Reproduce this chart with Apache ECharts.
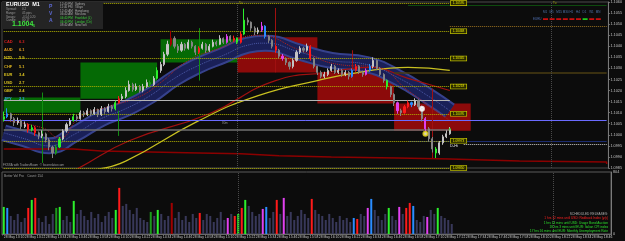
<!DOCTYPE html>
<html>
<head>
<meta charset="utf-8">
<script src="https://cdn.jsdelivr.net/npm/echarts@6/dist/echarts.min.js"></script>
<style>
html, body { margin: 0; padding: 0; background: #0c0c0c; }
#chart { width: 625px; height: 241px; }
</style>
</head>
<body>
<div id="chart"></div>
<script>
// time axis: one slot per 2 minutes, starting 28 May 13:10
const startMinute = 13 * 60 + 10;
const slotMinutes = 2;
const slotCount = 174;

const firstOpen = 1.10070;
const closes = [
    1.10082, 1.10095, 1.10073, 1.10055, 1.10064, 1.10037, 1.10046, 1.10023, 1.10032, 1.10009,
    1.09995, 1.10004, 1.09977, 1.09945, 1.09918, 1.09945, 1.09981, 1.10018, 1.10046, 1.10064,
    1.10082, 1.10073, 1.10100, 1.10091, 1.10109, 1.10095, 1.10114, 1.10091, 1.10118, 1.10105,
    1.10127, 1.10118, 1.10145, 1.10163, 1.10173, 1.10200, 1.10227, 1.10205, 1.10218, 1.10200,
    1.10218, 1.10236, 1.10227, 1.10255, 1.10291, 1.10318, 1.10364, 1.10409, 1.10436, 1.10400,
    1.10382, 1.10409, 1.10391, 1.10418, 1.10400, 1.10373, 1.10391, 1.10409, 1.10382, 1.10400,
    1.10418, 1.10409, 1.10436, 1.10418, 1.10445, 1.10427, 1.10436, 1.10418, 1.10455, 1.10518,
    1.10509, 1.10482, 1.10464, 1.10473, 1.10491, 1.10445, 1.10427, 1.10400, 1.10382, 1.10355,
    1.10345, 1.10327, 1.10309, 1.10336, 1.10373, 1.10391, 1.10382, 1.10400, 1.10345, 1.10309,
    1.10282, 1.10264, 1.10273, 1.10291, 1.10309, 1.10282, 1.10291, 1.10273, 1.10282, 1.10264,
    1.10291, 1.10309, 1.10282, 1.10273, 1.10291, 1.10309, 1.10336, 1.10300, 1.10273, 1.10245,
    1.10218, 1.10182, 1.10145, 1.10109, 1.10100, 1.10127, 1.10145, 1.10136, 1.10155, 1.10127,
    1.10073, 1.10027, 1.09982, 1.09936, 1.09918, 1.09964, 1.09991, 1.10005, 1.10025
];
const highs = [
    1.10105, 1.10120, 1.10100, 1.10080, 1.10078, 1.10070, 1.10060, 1.10052, 1.10045, 1.10040,
    1.10015, 1.10020, 1.10010, 1.09985, 1.09950, 1.09955, 1.09990, 1.10025, 1.10055, 1.10075,
    1.10095, 1.10090, 1.10110, 1.10108, 1.10120, 1.10115, 1.10125, 1.10118, 1.10130, 1.10125,
    1.10140, 1.10135, 1.10155, 1.10175, 1.10185, 1.10215, 1.10245, 1.10235, 1.10232, 1.10225,
    1.10230, 1.10250, 1.10245, 1.10265, 1.10305, 1.10330, 1.10375, 1.10425, 1.10470, 1.10445,
    1.10410, 1.10420, 1.10415, 1.10430, 1.10425, 1.10405, 1.10400, 1.10420, 1.10415, 1.10410,
    1.10430, 1.10425, 1.10450, 1.10440, 1.10455, 1.10450, 1.10448, 1.10440, 1.10465, 1.10570,
    1.10530, 1.10512, 1.10490, 1.10485, 1.10510, 1.10495, 1.10450, 1.10432, 1.10405, 1.10388,
    1.10365, 1.10350, 1.10332, 1.10345, 1.10382, 1.10400, 1.10398, 1.10412, 1.10405, 1.10350,
    1.10312, 1.10290, 1.10285, 1.10300, 1.10320, 1.10315, 1.10300, 1.10298, 1.10292, 1.10288,
    1.10300, 1.10320, 1.10315, 1.10290, 1.10300, 1.10320, 1.10350, 1.10340, 1.10305, 1.10278,
    1.10250, 1.10222, 1.10188, 1.10150, 1.10118, 1.10135, 1.10155, 1.10150, 1.10165, 1.10160,
    1.10132, 1.10080, 1.10035, 1.09990, 1.09945, 1.09972, 1.10000, 1.10020, 1.10035
];
const lows = [
    1.10060, 1.10075, 1.10060, 1.10040, 1.10045, 1.10025, 1.10030, 1.10010, 1.10015, 1.09995,
    1.09980, 1.09985, 1.09965, 1.09930, 1.09895, 1.09910, 1.09940, 1.09975, 1.10010, 1.10040,
    1.10060, 1.10060, 1.10068, 1.10080, 1.10085, 1.10085, 1.10090, 1.10080, 1.10085, 1.10095,
    1.10100, 1.10105, 1.10110, 1.10140, 1.10155, 1.10165, 1.10195, 1.10195, 1.10198, 1.10190,
    1.10192, 1.10212, 1.10215, 1.10220, 1.10250, 1.10280, 1.10310, 1.10355, 1.10400, 1.10390,
    1.10370, 1.10375, 1.10380, 1.10385, 1.10390, 1.10360, 1.10365, 1.10385, 1.10370, 1.10375,
    1.10395, 1.10400, 1.10405, 1.10410, 1.10412, 1.10420, 1.10420, 1.10410, 1.10412, 1.10450,
    1.10495, 1.10470, 1.10450, 1.10455, 1.10465, 1.10435, 1.10415, 1.10390, 1.10370, 1.10345,
    1.10335, 1.10315, 1.10295, 1.10300, 1.10330, 1.10365, 1.10372, 1.10375, 1.10335, 1.10300,
    1.10270, 1.10255, 1.10255, 1.10265, 1.10285, 1.10275, 1.10275, 1.10262, 1.10265, 1.10250,
    1.10258, 1.10285, 1.10275, 1.10262, 1.10268, 1.10285, 1.10300, 1.10292, 1.10265, 1.10235,
    1.10205, 1.10170, 1.10130, 1.10095, 1.10085, 1.10095, 1.10120, 1.10125, 1.10130, 1.10115,
    1.10060, 1.10015, 1.09970, 1.09920, 1.09895, 1.09910, 1.09955, 1.09985, 1.10000
];
// tick volume per bar
const volumes = [
    351, 338, 234, 182, 260, 156, 208, 338, 442, 468,
    208, 156, 234, 130, 260, 338, 351, 182, 234, 156,
    429, 260, 312, 234, 182, 286, 208, 260, 156, 234,
    286, 208, 312, 598, 364, 390, 312, 260, 338, 208,
    182, 156, 286, 234, 312, 260, 182, 234, 403, 208,
    286, 182, 234, 156, 260, 208, 273, 182, 260, 234,
    156, 208, 286, 182, 208, 260, 234, 260, 338, 442,
    364, 286, 234, 260, 325, 351, 208, 286, 442, 260,
    468, 234, 286, 182, 234, 312, 260, 208, 455, 312,
    260, 234, 182, 260, 208, 156, 234, 182, 208, 156,
    208, 195, 260, 234, 338, 455, 312, 234, 182, 260,
    338, 234, 182, 351, 260, 338, 403, 364, 182, 156,
    234, 221, 312, 260, 338, 234, 208, 182, 130
];
const volumeMax = 804;

// bars flagged by the volume indicator
const flagged = {
    0: "g", 1: "b", 7: "r", 8: "g", 9: "r", 15: "dg", 16: "g", 20: "g", 32: "g", 33: "r",
    42: "dg", 44: "g", 48: "dr", 56: "r", 64: "m", 66: "r", 67: "g", 68: "r", 69: "g",
    74: "m", 75: "b", 78: "r", 80: "m", 88: "r", 100: "b", 101: "r", 104: "m", 105: "b",
    110: "g", 113: "m", 115: "r", 116: "r", 117: "b", 121: "m", 124: "g"
};
const palette = { g: "#2cf02c", dg: "#1c9a1c", r: "#ff1a1a", dr: "#a00000", b: "#2a8cff", m: "#e040f0" };

// supply / demand zones: [fromSlot, toSlot, low, high, side]
const zones = [
    [0, 22, 1.10100, 1.10168, "buy"],
    [22, 44, 1.10163, 1.10327, "buy"],
    [45, 67, 1.10327, 1.10432, "buy"],
    [67, 90, 1.10282, 1.10441, "sell"],
    [90, 112, 1.10141, 1.10282, "sell"],
    [112, 134, 1.10018, 1.10141, "sell"]
];

const pivots = [1.10595, 1.10468, 1.10345, 1.10218, 1.10095, 1.09973, 1.09850];

// [price, fromSlot, toSlot, colour, width, type]
const levels = [
    [1.10064, 0, 173, "#6b6bff", 1, "solid"],
    [1.10155, 0, 128, "#b4b4b4", 1, "solid"],
    [1.10282, 112, 173, "#4a3c12", 1.5, "solid"],
    [1.10491, 128, 173, "#9a7020", 1, "dotted"],
    [1.10586, 116, 173, "#0e4a0e", 1, "solid"],
    [1.09973, 116, 173, "#1c2c70", 1, "solid"],
    [1.09959, 132, 173, "#d0d0d0", 1, "dotted"]
];
const separators = [67, 157];

// vertical signal lines: [slot, high, low, colour]
const spikes = [
    [11, 1.10191, 1.09873, "#118f11"],
    [33, 1.10109, 1.09995, "#118f11"],
    [56, 1.10482, 1.10245, "#118f11"],
    [78, 1.10573, 1.10282, "#a01010"],
    [100, 1.10382, 1.10245, "#a01010"],
    [123, 1.10209, 1.09895, "#a01010"]
];

// channel middle and moving averages, [slot, price]
const channel = [
    [0, 1.10009], [6, 1.09982], [13, 1.09950], [20, 1.10000], [28, 1.10073], [35, 1.10118],
    [42, 1.10177], [49, 1.10255], [56, 1.10314], [63, 1.10359], [70, 1.10405], [75, 1.10414],
    [85, 1.10373], [94, 1.10336], [104, 1.10318], [113, 1.10259], [122, 1.10173], [128, 1.10109]
];
const maRed = [[16, 1.0981], [21, 1.09845], [36, 1.09973], [59, 1.10095], [78, 1.10245], [93, 1.10282], [105, 1.10305], [116, 1.10255], [128, 1.10200]];
const maYellow = [[27, 1.09845], [35, 1.09881], [56, 1.10064], [73, 1.10177], [90, 1.10245], [102, 1.10282], [116, 1.10305], [128, 1.10291]];
const maDotted = [[0, 1.10064], [11, 1.10032], [16, 1.09986], [22, 1.10082], [30, 1.10127], [39, 1.10173], [45, 1.10236], [53, 1.10336], [62, 1.10391], [73, 1.10450], [85, 1.10382], [96, 1.10318], [107, 1.10305], [116, 1.10200], [128, 1.10064]];
const dailyLine = [[0, 1.09936], [20, 1.09927], [28, 1.09918], [56, 1.09914], [68, 1.09905], [79, 1.09900], [94, 1.09895], [113, 1.09891], [128, 1.09882], [148, 1.09877], [173, 1.09868]];

const whiteRing = [120, 1.10118];
const yellowRing = [121, 1.10005];

const currencies = ["CAD", "AUD", "NZD", "CHF", "EUR", "USD", "GBP", "JPY"];
const strengths = [6.3, 6.1, 5.9, 5.1, 3.4, 2.7, 2.4, 2.3];
const strengthColors = ["#d42020", "#e09a20", "#d8c020", "#d8b020", "#d8c020", "#d8c020", "#d8c020", "#3aa0e0"];

const sessions = [
    ["12:40 PM", "Sydney"], ["11:40 PM", "Tokyo"], ["12:40 AM", "Hongkong"], ["06:40 AM", "Moscow"],
    ["04:40 PM", "Frankfurt (L)"], ["04:40 PM", "London (Ctr)"], ["08:40 AM", "NewYork"]
];
const openSessions = [4, 5];
const infoRows = [["Spread:", "0.2"], ["Range:", "45 pips"], ["Swaps:", "-0.54 0.20"], ["Candle:", "00:17"]];

const timeframes = ["M1", "M5", "M15", "M30", "H1", "H4", "D1", "W1", "MN"];
const trendRow = ["r", "r", "r", "r", "r", "r", "g", "r", "r"];

const releases = [
    ["SCHEDULED RELEASES:", "#b0b0b0"],
    ["1 hrs 12 mins until USD: Redbook Index (y/y)", "#ff2020"],
    ["1 hrs 14 mins until USD: Usage Bond Auction", "#2ce02c"],
    ["18 hrs 3 mins until EUR: Italian CPI index", "#2ce02c"],
    ["17 hrs 16 mins until EUR: Monthly Unemployment Rate", "#2ce02c"]
];

const FONT = '"Liberation Sans", Arial, sans-serif';

const categories = [];
for (let i = 0; i < slotCount; i++) {
    const m = startMinute + i * slotMinutes;
    const hh = String(Math.floor(m / 60)).padStart(2, "0");
    const mm = String(m % 60).padStart(2, "0");
    categories.push("28 May " + hh + ":" + mm);
}

function flagStyle (i) {
    const c = palette[flagged[i]];
    return c ? { color: c, color0: c, borderColor: c, borderColor0: c } : null;
}

const candleData = closes.map((c, i) => {
    const o = i ? closes[i - 1] : firstOpen;
    const item = { value: [o, c, lows[i], highs[i]] };
    const st = flagStyle(i);
    if (st) item.itemStyle = st;
    return item;
});

const volumeData = volumes.map((v, i) => {
    const c = palette[flagged[i]];
    return c ? { value: v, itemStyle: { color: c } } : v;
});

const lastClose = closes[closes.length - 1];
const lastSlot = closes.length - 1;

function text (x, y, str, fill, size, extra) {
    return {
        type: "text", x: x, y: y, silent: true, z: 100,
        style: Object.assign({ text: str, fill: fill, font: size + "px " + FONT, textVerticalAlign: "middle" }, extra || {})
    };
}

function buildGraphics () {
    const g = [];
    g.push({ type: "rect", shape: { x: 2, y: 2, width: 101, height: 27 }, style: { fill: "#242424" }, silent: true, z: 99 });
    g.push(text(6, 4.5, "EURUSD  M1", "#ffffff", 5.5, { font: "bold 5.5px " + FONT }));
    infoRows.forEach((r, k) => {
        g.push(text(6, 9.5 + k * 3.6, r[0], "#9a9a9a", 3));
        g.push(text(22, 9.5 + k * 3.6, r[1], "#9a9a9a", 3));
    });
    g.push(text(12, 24.5, "1.1004", "#3ee83e", 7, { font: "bold 7px " + FONT }));
    g.push(text(33, 25.5, "6", "#3ee83e", 4));
    ["P", "V", "A"].forEach((ch, k) => g.push(text(49, 7 + k * 7, ch, "#5d6ad6", 5, { font: "bold 5px " + FONT })));
    sessions.forEach((s, k) => {
        const col = openSessions.includes(k) ? "#3ad03a" : "#a8a8a8";
        g.push(text(60, 3.8 + k * 3.6, s[0], col, 3));
        g.push(text(75, 3.8 + k * 3.6, s[1], col, 3));
    });
    currencies.forEach((c, k) => {
        const y = 42 + k * 8.15;
        g.push(text(4, y, c, strengthColors[k], 4, { font: "bold 4px " + FONT }));
        g.push(text(19, y, strengths[k].toFixed(1), strengthColors[k], 4, { font: "bold 4px " + FONT }));
    });
    timeframes.forEach((t, k) => g.push(text(543 + k * 6.6, 12, t, "#4f73a8", 3)));
    g.push(text(533, 19, "EURU", "#4f6fb0", 3));
    trendRow.forEach((s, k) => g.push({
        type: "rect", silent: true, z: 100,
        shape: { x: 543 + k * 6.6, y: 18.3, width: 5, height: 1.6 },
        style: { fill: s === "g" ? "#20e020" : "#e01010" }
    }));
    releases.forEach((r, k) => g.push(text(608, 214.5 + k * 4.1, r[0], r[1], 3.2, { textAlign: "right" })));
    g.push(text(4, 176, "Better Vol Pro    Count: 154", "#a0a0a0", 3.2));
    g.push(text(3, 165, "FXSSA with TradersRoom  \u00a9 fxcorrelator.com", "#a0a0a0", 3));
    g.push(text(450, 145.5, "D-Hi", "#e0e0e0", 4));
    g.push(text(222, 123, "80m", "#909090", 3));
    g.push(text(239, 3.5, "Tu", "#b0b000", 3));
    g.push(text(553, 3.5, "Tu", "#b0b000", 3));
    return g;
}

function pivotLabel (p) {
    return {
        show: true, position: "end", distance: 1, fontSize: 3.2, color: "#e8e800", fontFamily: FONT,
        backgroundColor: "#2a2a00", borderColor: "#c8c800", borderWidth: 0.7, padding: [0.6, 2],
        formatter: p.toFixed(5)
    };
}

function drawChart (domId) {
    const chart = echarts.init(document.getElementById(domId), null, { renderer: "canvas" });
    const axisGray = "#6a6a6a";
    const option = {
        backgroundColor: "#0c0c0c",
        animation: false,
        grid: [
            { left: 2, right: 14, top: 2, height: 166, show: true, borderColor: "#4a4a4a", borderWidth: 1 },
            { left: 2, right: 14, top: 172, height: 62, show: true, borderColor: "#5a5a5a", borderWidth: 1 }
        ],
        xAxis: [
            {
                type: "category", gridIndex: 0, data: categories, boundaryGap: true,
                axisLine: { show: false }, axisTick: { show: false }, axisLabel: { show: false }, splitLine: { show: false }
            },
            {
                type: "category", gridIndex: 1, data: categories, boundaryGap: true,
                axisLine: { lineStyle: { color: axisGray } },
                axisTick: { show: true, interval: 5, length: 1.5, lineStyle: { color: axisGray } },
                axisLabel: { interval: 5, align: "left", fontSize: 3.4, color: "#c8c8c8", margin: 2, fontFamily: FONT },
                splitLine: { show: false }
            }
        ],
        yAxis: [
            {
                type: "value", gridIndex: 0, position: "right", min: 1.0985, max: 1.1060, interval: 0.0005,
                axisLine: { show: true, lineStyle: { color: "#7a7a7a" } },
                axisTick: { show: true, length: 1.5, lineStyle: { color: "#7a7a7a" } },
                axisLabel: { fontSize: 3.8, color: "#c0c0c0", margin: 2, fontFamily: FONT, formatter: v => v.toFixed(4) },
                splitLine: { show: false }
            },
            {
                type: "value", gridIndex: 1, position: "right", min: 0, max: volumeMax, interval: volumeMax,
                axisLine: { show: true, lineStyle: { color: "#7a7a7a" } },
                axisTick: { show: false },
                axisLabel: { fontSize: 3.8, color: "#c0c0c0", margin: 2, fontFamily: FONT },
                splitLine: { show: false }
            }
        ],
        series: [
            {
                name: "zones", type: "line", data: [], z: 1, silent: true,
                markArea: {
                    silent: true,
                    data: zones.map(z => [
                        { xAxis: z[0], yAxis: z[2], itemStyle: { color: z[4] === "buy" ? "#056a05" : "#8c0a0a", opacity: 1 } },
                        { xAxis: z[1], yAxis: z[3] }
                    ])
                }
            },
            {
                name: "channel-edge", type: "line", data: channel, smooth: true, symbol: "none", z: 2, silent: true,
                lineStyle: { color: "#36418c", width: 17 }
            },
            {
                name: "channel", type: "line", data: channel, smooth: true, symbol: "none", z: 2, silent: true,
                lineStyle: { color: "#1a2058", width: 13 }
            },
            {
                name: "channel-mid", type: "line", data: channel, smooth: true, symbol: "none", z: 2, silent: true,
                lineStyle: { color: "#4c5aa8", width: 1, type: "dotted" }
            },
            {
                name: "daily", type: "line", data: dailyLine, step: "end", symbol: "none", z: 3, silent: true,
                lineStyle: { color: "#8b0000", width: 1.5 }
            },
            {
                name: "maRed", type: "line", data: maRed, smooth: true, symbol: "none", z: 3, silent: true,
                lineStyle: { color: "#a01010", width: 1.2 }
            },
            {
                name: "maYellow", type: "line", data: maYellow, smooth: true, symbol: "none", z: 3, silent: true,
                lineStyle: { color: "#c8c020", width: 1.2 }
            },
            {
                name: "maDotted", type: "line", data: maDotted, smooth: true, symbol: "none", z: 3, silent: true,
                lineStyle: { color: "#b02020", width: 1, type: "dotted" }
            },
            {
                name: "levels", type: "line", data: [], z: 4, silent: true,
                markLine: {
                    silent: true, symbol: ["none", "none"], label: { show: false },
                    data: levels.map(l => [
                        { coord: [l[1], l[0]], lineStyle: { color: l[3], width: l[4], type: l[5] } },
                        { coord: [l[2], l[0]] }
                    ]).concat(separators.map(s => ({ xAxis: s, lineStyle: { color: "#4a4a4a", width: 1, type: "dotted" } })))
                        .concat(spikes.map(s => [
                            { coord: [s[0], s[1]], lineStyle: { color: s[3], width: 1, type: "solid" } },
                            { coord: [s[0], s[2]] }
                        ]))
                }
            },
            {
                name: "EURUSD", type: "candlestick", data: candleData, z: 5, barWidth: 1.6,
                itemStyle: { color: "#c4c4c4", color0: "#858585", borderColor: "#c4c4c4", borderColor0: "#858585", borderWidth: 1 },
                markLine: {
                    silent: true, symbol: ["none", "none"],
                    data: [
                        [
                            { coord: [0, lastClose], lineStyle: { color: "#707070", width: 1.5, type: "solid" }, label: { show: false } },
                            { coord: [lastSlot, lastClose] }
                        ],
                        [
                            {
                                coord: [lastSlot, lastClose], lineStyle: { opacity: 0 },
                                label: {
                                    show: true, position: "end", distance: 1, formatter: lastClose.toFixed(5),
                                    fontSize: 3.6, color: "#000", backgroundColor: "#c8c8c8", padding: [0.6, 1], fontFamily: FONT
                                }
                            },
                            { coord: [slotCount - 1, lastClose] }
                        ]
                    ]
                }
            },
            {
                name: "pivots", type: "line", data: [], z: 6, silent: true,
                markLine: {
                    silent: true, symbol: ["none", "none"],
                    lineStyle: { color: "#b4b400", width: 1, type: "dotted" },
                    data: pivots.map(p => [{ coord: [0, p], label: pivotLabel(p) }, { coord: [lastSlot, p] }])
                }
            },
            {
                name: "marks", type: "scatter", z: 7, silent: true, symbol: "emptyCircle", symbolSize: 4,
                data: [
                    { value: whiteRing, itemStyle: { color: "#ffffff", borderColor: "#ffffff", borderWidth: 1.2 } },
                    { value: yellowRing, itemStyle: { color: "#f0e020", borderColor: "#f0e020", borderWidth: 1.5 } },
                    { value: [lastSlot, lastClose], symbol: "rect", symbolSize: 2, itemStyle: { color: "#20e020" } }
                ]
            },
            {
                name: "Volume", type: "bar", xAxisIndex: 1, yAxisIndex: 1, data: volumeData, barWidth: 2, z: 2,
                itemStyle: { color: "#38385a" },
                markLine: {
                    silent: true, symbol: ["none", "none"], label: { show: false },
                    lineStyle: { color: "#4a4a4a", width: 1, type: "dotted" },
                    data: separators.map(s => ({ xAxis: s }))
                }
            }
        ],
        graphic: buildGraphics()
    };
    chart.setOption(option);
    return chart;
}

drawChart("chart");
</script>
</body>
</html>
